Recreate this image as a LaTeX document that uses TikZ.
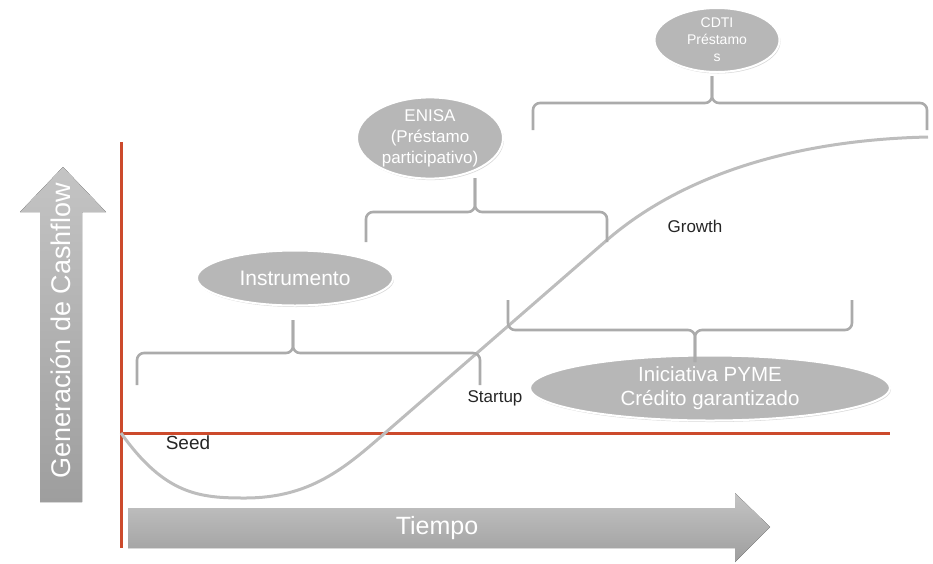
\documentclass[tikz,border=0pt]{standalone}
\usepackage{fontspec}
\setmainfont{Liberation Sans}
\usetikzlibrary{shapes.geometric,shadows}
\definecolor{axisred}{HTML}{CC4A2C}
\definecolor{bubblegray}{HTML}{B7B7B7}
\definecolor{curvegray}{HTML}{BDBDBD}
\definecolor{bracegray}{HTML}{ABABAB}
\definecolor{arrowlight}{HTML}{C4C4C4}
\definecolor{arrowdark}{HTML}{9E9E9E}

\begin{document}
\begin{tikzpicture}[x=1pt,y=-1pt,
  bubble/.style={ellipse,draw=white,line width=2pt,fill=bubblegray,text=white,align=center,inner sep=0pt,
    drop shadow={opacity=.3,shadow xshift=1pt,shadow yshift=-1.5pt}},
  bracket/.style={draw=bracegray,line width=2.6pt,rounded corners=7pt},
  axis/.style={draw=axisred,line width=3pt},
  stage/.style={font=\fontsize{17}{20}\selectfont,text=black!85},
  bigarrow/.style={top color=arrowlight,bottom color=arrowdark}
]
  \useasboundingbox (0,0) rectangle (933,563);

  % big arrows
  \fill[bigarrow] (40,502) -- (40,212) -- (20,212) -- (63,167) -- (106,212) -- (82,212) -- (82,502) -- cycle;
  \node[rotate=90,text=white,font=\fontsize{27}{30}\selectfont] (cashflow) at (61,331) {Generación de Cashflow};
  \fill[bigarrow] (128,508) -- (735,508) -- (735,493) -- (770,527) -- (735,562) -- (735,548) -- (128,548) -- cycle;
  \node[text=white,font=\fontsize{25}{30}\selectfont] (tiempo) at (437,528) {Tiempo};

  % axes
  \draw[axis] (121,142) -- (121,548);
  \draw[axis] (121,433) -- (890,433);

  % cashflow curve
  \draw[curvegray,line width=3pt] (121,433) .. controls (165,495) and (200,498) .. (245,498)
    .. controls (310,498) and (345,468) .. (385,433) -- (607,240)
    .. controls (680,177) and (790,140) .. (928,137);

  \node[stage,font=\fontsize{19}{22}\selectfont] (seed) at (188,443) {Seed};
  \node[stage] (startup) at (495,398) {Startup};
  \node[stage] (growth) at (695,226) {Growth};

  % instruments
  \node[bubble,minimum width=125pt,minimum height=64pt,font=\fontsize{14}{17}\selectfont] (cdti) at (717,40) {CDTI\\Préstamo\\s};
  \node[bubble,minimum width=146pt,minimum height=71pt,font=\fontsize{17}{21}\selectfont] (enisa) at (430,138) {ENISA\\(Préstamo\\participativo)};
  \node[bubble,minimum width=196pt,minimum height=55pt,font=\fontsize{21}{25}\selectfont] (instr) at (295,278) {Instrumento};
  \node[bubble,minimum width=360pt,minimum height=65pt,font=\fontsize{20.5}{24}\selectfont] (pyme) at (710,388) {Iniciativa PYME\\Crédito garantizado};

  % braces
  \draw[bracket] (137,385) -- (137,353) -- (293,353) -- (293,320);
  \draw[bracket] (293,320) -- (293,353) -- (480,353) -- (480,385);
  \draw[bracket] (366,242) -- (366,212) -- (475,212) -- (475,178);
  \draw[bracket] (475,178) -- (475,212) -- (607,212) -- (607,242);
  \draw[bracket] (533,130) -- (533,103) -- (712,103) -- (712,76);
  \draw[bracket] (712,76) -- (712,103) -- (927,103) -- (927,130);
  \draw[bracket] (508,300) -- (508,330) -- (695,330) -- (695,362);
  \draw[bracket] (695,362) -- (695,330) -- (852,330) -- (852,300);
\end{tikzpicture}
\end{document}
